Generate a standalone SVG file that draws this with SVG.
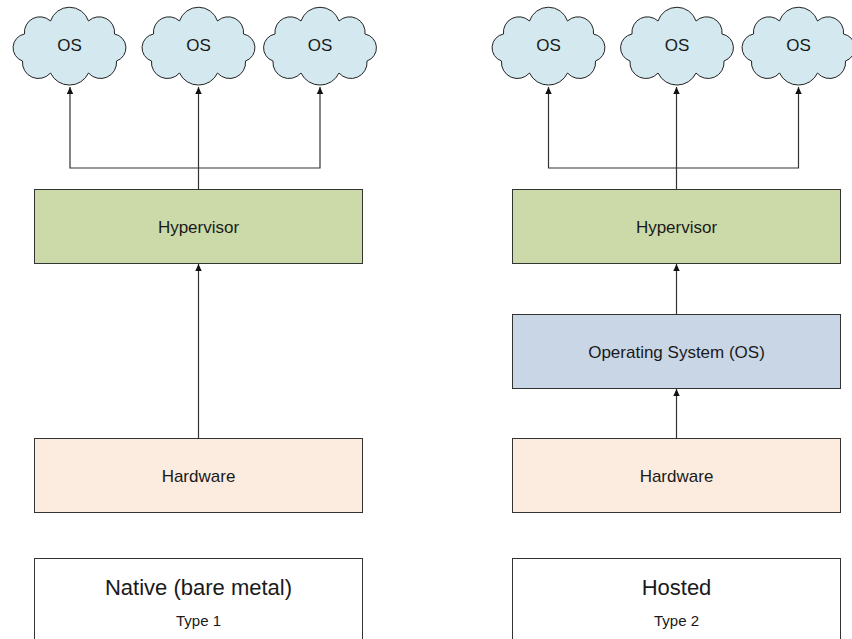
<svg xmlns="http://www.w3.org/2000/svg" width="852" height="639" viewBox="0 0 852 639">
<style>
.t{font-family:"Liberation Sans",Arial,sans-serif;fill:#1a1a1a;text-anchor:middle}
.lbl{font-size:17px}
.big{font-size:22px}
.sm{font-size:15px}
.box{stroke:#333;stroke-width:1}
.cloud{fill:#d3e9ef;stroke:#222;stroke-width:1}
.con{fill:none;stroke:#333;stroke-width:1.2}
</style>
<defs>
<marker id="ah" markerUnits="userSpaceOnUse" markerWidth="8" markerHeight="8" refX="7" refY="4" orient="auto">
<path d="M0,0.8 L7,4 L0,7.2 Z" fill="#111"/>
</marker>
<path id="cloudShape" class="cloud" d="M-47,15 A14,14 0 0 1 -45,-12 A15.5,15.5 0 0 1 -19,-25 A20,20 0 0 1 19,-25 A15.5,15.5 0 0 1 45,-12 A14,14 0 0 1 47,15 A16,16 0 0 1 19,27 A21,21 0 0 1 -19,27 A16,16 0 0 1 -47,15 Z"/>
</defs>
<rect width="852" height="639" fill="#fff"/>
<g id="connectors">
<path class="con" d="M198.5,189.5 V168 H70 V87" marker-end="url(#ah)"/>
<path class="con" d="M198.5,168 H320 V87" marker-end="url(#ah)"/>
<path class="con" d="M198.5,168 V87" marker-end="url(#ah)"/>
<path class="con" d="M198.5,438.5 V264" marker-end="url(#ah)"/>
<path class="con" d="M676.5,189.5 V168 H548.5 V87" marker-end="url(#ah)"/>
<path class="con" d="M676.5,168 H798.5 V87" marker-end="url(#ah)"/>
<path class="con" d="M676.5,168 V87" marker-end="url(#ah)"/>
<path class="con" d="M676.5,314.5 V264" marker-end="url(#ah)"/>
<path class="con" d="M676.5,438.5 V389" marker-end="url(#ah)"/>
</g>
<g id="os-l1"><use href="#cloudShape" transform="translate(69.5,46)"/><text class="t lbl" x="69.5" y="51">OS</text></g>
<g id="os-l2"><use href="#cloudShape" transform="translate(198.5,46)"/><text class="t lbl" x="198.5" y="51">OS</text></g>
<g id="os-l3"><use href="#cloudShape" transform="translate(320,46)"/><text class="t lbl" x="320" y="51">OS</text></g>
<g id="os-r1"><use href="#cloudShape" transform="translate(548.5,46)"/><text class="t lbl" x="548.5" y="51">OS</text></g>
<g id="os-r2"><use href="#cloudShape" transform="translate(677,46)"/><text class="t lbl" x="677" y="51">OS</text></g>
<g id="os-r3"><use href="#cloudShape" transform="translate(798.5,46)"/><text class="t lbl" x="798.5" y="51">OS</text></g>
<g id="hyp-l"><rect class="box" x="34.5" y="189.5" width="328" height="74" fill="#ccdaa9"/><text class="t lbl" x="198.5" y="232.5">Hypervisor</text></g>
<g id="hw-l"><rect class="box" x="34.5" y="438.5" width="328" height="74" fill="#fcece0"/><text class="t lbl" x="198.5" y="481.5">Hardware</text></g>
<g id="native"><rect class="box" x="34.5" y="558.5" width="328" height="100" fill="#fff"/><text class="t big" x="198.5" y="595">Native (bare metal)</text><text class="t sm" x="198.5" y="625.5">Type 1</text></g>
<g id="hyp-r"><rect class="box" x="512.5" y="189.5" width="328" height="74" fill="#ccdaa9"/><text class="t lbl" x="676.5" y="232.5">Hypervisor</text></g>
<g id="os-box"><rect class="box" x="512.5" y="314.5" width="328" height="74" fill="#c9d6e6"/><text class="t lbl" x="676.5" y="357.5">Operating System (OS)</text></g>
<g id="hw-r"><rect class="box" x="512.5" y="438.5" width="328" height="74" fill="#fcece0"/><text class="t lbl" x="676.5" y="481.5">Hardware</text></g>
<g id="hosted"><rect class="box" x="512.5" y="558.5" width="328" height="100" fill="#fff"/><text class="t big" x="676.5" y="595">Hosted</text><text class="t sm" x="676.5" y="625.5">Type 2</text></g>
</svg>
